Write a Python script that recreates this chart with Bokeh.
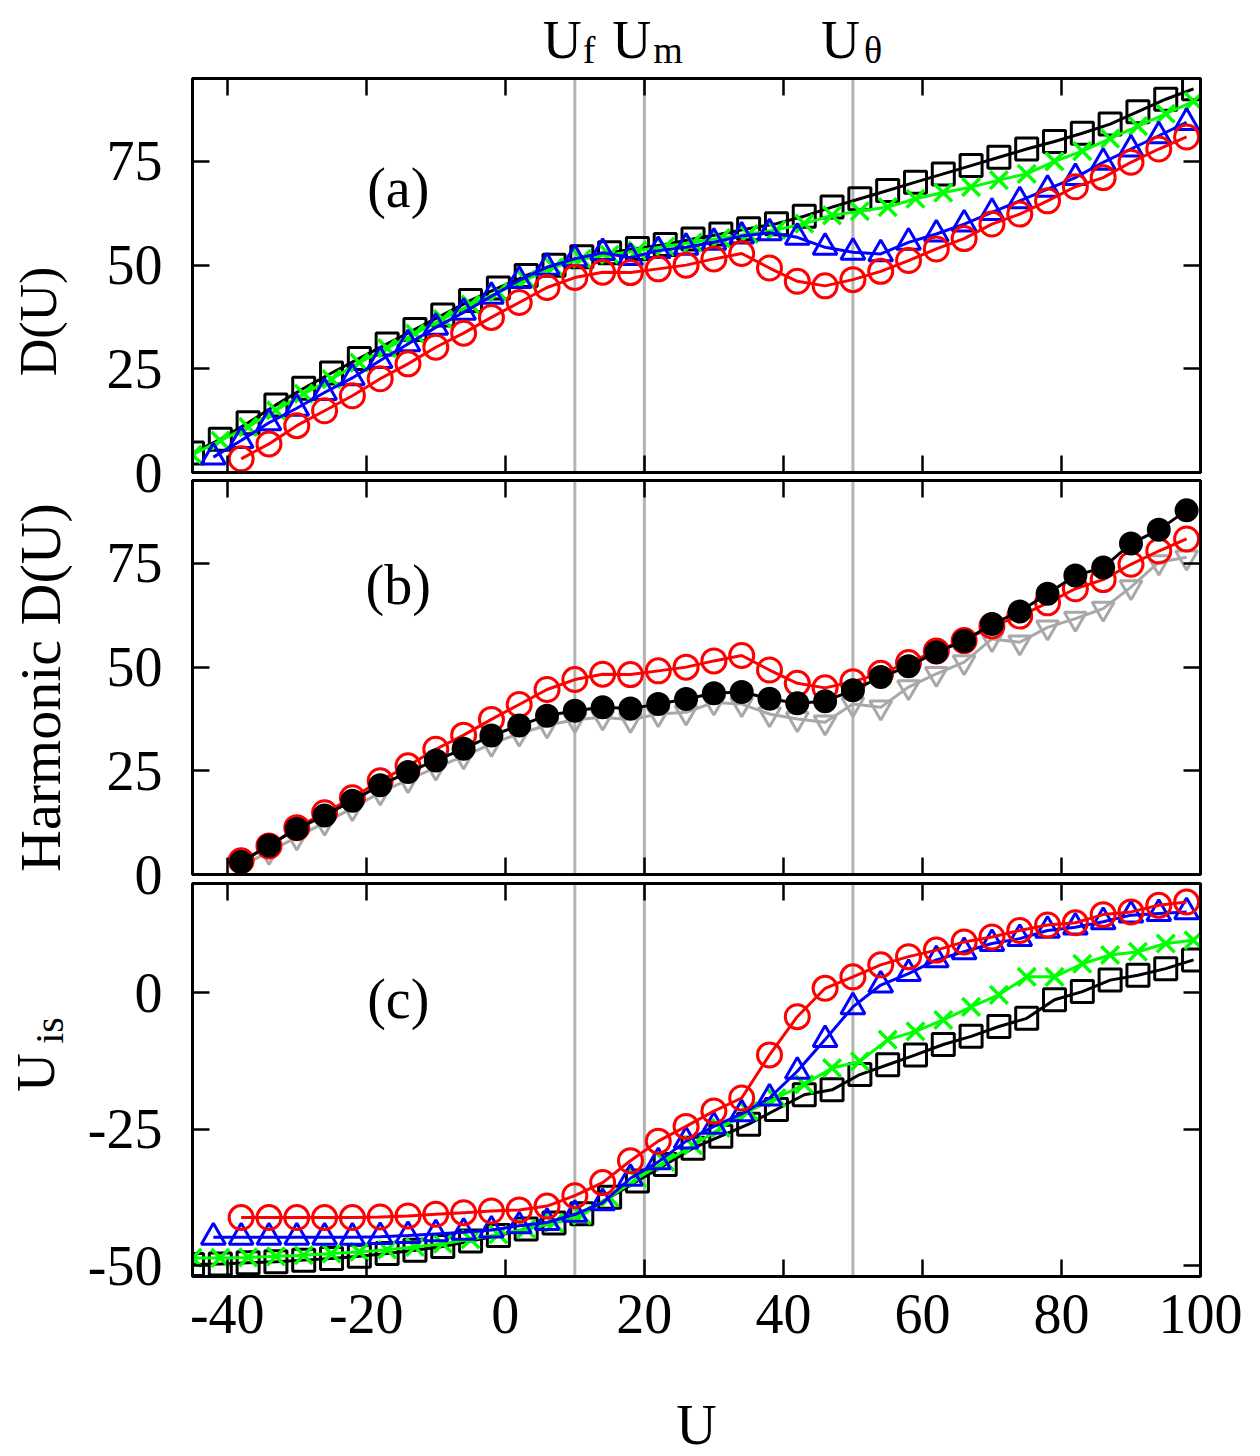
import math
from bokeh.plotting import figure
from bokeh.layouts import column, row
from bokeh.models import Range1d, LinearAxis, Span, Label, FixedTicker
from bokeh.core.properties import value
from bokeh.embed import file_html
from bokeh.resources import INLINE

FONT = "Liberation Serif"

# ---------------- data ----------------
x_odd = [-45, -41, -37, -33, -29, -25, -21, -17, -13, -9, -5, -1, 3, 7, 11, 15, 19, 23, 27,
         31, 35, 39, 43, 47, 51, 55, 59, 63, 67, 71, 75, 79, 83, 87, 91, 95, 99]
x_blue = [-42, -38, -34, -30, -26, -22, -18, -14, -10, -6, -2, 2, 6, 10, 14, 18, 22, 26, 30,
          34, 38, 42, 46, 50, 54, 58, 62, 66, 70, 74, 78, 82, 86, 90, 94, 98]
x_red = [-38, -34, -30, -26, -22, -18, -14, -10, -6, -2, 2, 6, 10, 14, 18, 22, 26, 30,
         34, 38, 42, 46, 50, 54, 58, 62, 66, 70, 74, 78, 82, 86, 90, 94, 98]

# panel (a): D(U)
sq_a = [4.7, 8.0, 12.0, 16.3, 20.3, 24.0, 27.5, 31.0, 34.5, 38.0, 41.5, 44.5, 47.5, 50.0, 52.0,
        53.0, 54.0, 55.0, 56.3, 57.5, 58.8, 60.0, 61.8, 64.0, 66.0, 68.0, 70.0, 72.0, 74.0, 76.0,
        78.0, 79.8, 81.8, 84.0, 87.0, 90.0, 92.5]
green_a = [4.3, 7.7, 11.0, 15.0, 19.0, 22.5, 26.5, 30.0, 33.5, 37.0, 40.5, 43.5, 46.5, 49.5, 51.5,
           52.5, 53.5, 54.5, 55.5, 56.5, 57.5, 58.5, 60.0, 62.0, 63.0, 64.0, 66.0, 67.5, 68.8, 70.5,
           72.0, 75.0, 77.5, 80.5, 83.5, 86.5, 89.5]
blue_a = [3.7, 7.7, 12.0, 15.5, 19.3, 22.8, 27.0, 31.0, 35.0, 38.6, 42.5, 46.3, 49.5, 51.5, 53.0,
          51.8, 53.5, 54.3, 55.5, 57.0, 57.8, 56.7, 54.3, 53.1, 52.7, 55.5, 57.5, 59.9, 62.7, 65.5,
          68.3, 71.1, 74.8, 78.0, 81.2, 84.4]
red_a = [3.3, 6.9, 11.3, 14.9, 18.5, 22.6, 26.2, 30.2, 33.6, 37.4, 41.0, 44.6, 47.0, 48.3, 48.2,
         49.1, 50.0, 51.5, 52.8, 49.3, 46.1, 45.0, 46.5, 48.5, 51.1, 53.9, 56.4, 59.9, 62.3, 65.5,
         68.9, 71.1, 74.8, 78.0, 80.9]

# panel (b): Harmonic D(U)
red_b = red_a
black_b = [3.0, 7.0, 11.0, 14.2, 17.8, 21.5, 24.7, 27.5, 30.3, 33.5, 35.9, 38.3, 39.5, 40.3, 40.0,
           41.1, 42.3, 43.7, 44.0, 42.4, 41.3, 41.8, 44.4, 47.6, 50.2, 53.6, 56.3, 60.4, 63.4, 67.7,
           72.1, 74.0, 79.8, 83.1, 87.8]
gray_b = [2.0, 5.5, 9.0, 12.5, 16.0, 19.8, 22.8, 25.8, 28.5, 31.5, 34.0, 36.0, 37.3, 37.9, 37.3,
          38.7, 39.1, 41.5, 41.1, 38.7, 37.5, 36.7, 41.1, 40.3, 45.2, 48.4, 51.2, 56.8, 56.0, 59.6,
          61.7, 64.1, 69.3, 75.3, 76.5]

# panel (c): U_is
sq_c = [-49.8, -49.7, -49.5, -49.3, -49.0, -48.7, -48.3, -47.8, -47.2, -46.5, -45.5, -44.5, -43.3,
        -42.2, -40.5, -37.5, -34.5, -31.5, -28.5, -26.3, -24.1, -21.4, -18.7, -17.8, -15.0, -13.2,
        -11.4, -9.5, -8.0, -6.2, -4.7, -1.3, 0.2, 2.3, 3.2, 4.4, 6.0]
green_c = [-48.6, -48.6, -48.5, -48.3, -48.1, -47.8, -47.5, -47.1, -46.6, -46.0, -45.2, -44.3, -43.3,
           -42.2, -40.8, -37.5, -34.0, -31.0, -28.0, -24.8, -21.7, -19.3, -16.8, -13.8, -12.6, -8.6,
           -7.1, -5.0, -2.6, -0.4, 2.9, 2.9, 5.3, 6.9, 7.5, 9.0, 9.6]
blue_c = [-44.8, -44.8, -44.8, -44.8, -44.8, -44.8, -44.7, -44.5, -44.2, -43.9, -43.5, -42.7, -42.1,
          -40.6, -38.5, -34.0, -31.0, -27.2, -24.5, -22.2, -19.3, -14.4, -8.6, -2.6, 1.4, 3.5, 6.0,
          7.5, 9.0, 9.9, 11.4, 12.0, 13.0, 14.2, 14.5, 14.8]
red_c = [-41.2, -41.2, -41.2, -41.2, -41.2, -41.1, -40.9, -40.6, -40.3, -40.0, -39.8, -39.1, -37.2,
         -34.8, -30.8, -27.2, -24.5, -21.7, -19.3, -11.4, -4.4, 0.8, 2.9, 5.1, 6.6, 7.8, 9.3, 10.2,
         11.4, 12.4, 12.8, 14.3, 14.8, 16.0, 16.6]

U_marks = [10, 20, 50]            # U_f, U_m, U_theta
U_mark_subs = ["f", "m", "θ"]
x_ticks = [-40, -20, 0, 20, 40, 60, 80, 100]
y_ticks_ab = [0, 25, 50, 75]
y_ticks_c = [-50, -25, 0]

RED = "#ff0000"
BLUE = "#0000ff"
GREEN = "#00ff00"
BLACK = "#000000"
GRAY = "#a8a8a8"

TICK_FS = "56px"
STRIP_W = 80


def style_axis(ax, ticks, labels=True):
    ax.ticker = FixedTicker(ticks=ticks)
    ax.axis_line_color = "black"
    ax.axis_line_width = 3
    ax.major_tick_in = 17
    ax.major_tick_out = 0
    ax.major_tick_line_width = 2.5
    ax.major_tick_line_color = "black"
    ax.minor_tick_line_color = None
    if labels:
        ax.major_label_overrides = {t: str(t) for t in ticks}
        ax.major_label_text_font = FONT
        ax.major_label_text_font_size = TICK_FS
        ax.major_label_text_color = "black"
    else:
        ax.major_label_text_color = None
        ax.major_label_text_font_size = "0px"
        ax.major_label_standoff = 0


def make_fig(y0, y1, yticks, top, bottom, fh, xlabels, transparent):
    p = figure(frame_width=1008, frame_height=fh,
               x_range=Range1d(-45, 100), y_range=Range1d(y0, y1),
               output_backend="svg", toolbar_location=None,
               min_border_left=192 - STRIP_W, min_border_right=50,
               min_border_top=top, min_border_bottom=bottom)
    p.grid.visible = False
    p.outline_line_color = "black"
    p.outline_line_width = 3
    p.background_fill_color = "white"
    p.border_fill_color = None if transparent else "white"
    style_axis(p.below[0], x_ticks, labels=xlabels)
    style_axis(p.left[0], yticks, labels=True)
    p.left[0].major_label_standoff = 30
    top_ax = LinearAxis()
    style_axis(top_ax, x_ticks, labels=False)
    p.add_layout(top_ax, "above")
    right_ax = LinearAxis()
    style_axis(right_ax, yticks, labels=False)
    p.add_layout(right_ax, "right")
    for u in U_marks:
        p.add_layout(Span(location=u, dimension="height", line_color="#b4b4b4",
                          line_width=3, level="underlay"))
    return p


def strip(height):
    s = figure(frame_width=STRIP_W, frame_height=height, x_range=Range1d(0, STRIP_W),
               y_range=Range1d(0, height), output_backend="svg", toolbar_location=None,
               min_border_left=0, min_border_right=0, min_border_top=0, min_border_bottom=0,
               x_axis_location=None, y_axis_location=None)
    s.grid.visible = False
    s.outline_line_color = None
    s.background_fill_color = None
    s.border_fill_color = None
    return s


def vtext(s, x, y, txt, size):
    s.text(x=[x], y=[y], text=[txt], angle=math.pi / 2, text_align="center",
           text_baseline="middle", text_font=value(FONT), text_font_size=value(size),
           text_color="black")


def series(p, xs, ys, color, marker, size, fill=None, lw=3):
    p.line(xs, ys, line_color=color, line_width=3)
    p.scatter(xs, ys, marker=marker, size=size, line_color=color, line_width=lw,
              fill_color=fill if fill else None)


def panel_label(p, x, y, txt):
    p.add_layout(Label(x=x, y=y, text=txt, text_font=FONT, text_font_size="56px",
                       text_align="center", text_baseline="middle", text_color="black"))


# ---------------- top strip with U_f, U_m, U_theta ----------------
ptop = figure(frame_width=1008, frame_height=74, x_range=Range1d(-45, 100),
              y_range=Range1d(0, 74), output_backend="svg", toolbar_location=None,
              min_border_left=192, min_border_right=50, min_border_top=0, min_border_bottom=0,
              x_axis_location=None, y_axis_location=None)
ptop.grid.visible = False
ptop.outline_line_color = None
ptop.text(x=U_marks, y=[35] * len(U_marks), text=["U"] * len(U_marks),
          x_offset=[7, 7, 7], text_align="right", text_baseline="middle",
          text_font=value(FONT), text_font_size=value("54px"), text_color="black")
ptop.text(x=U_marks, y=[25] * len(U_marks), text=U_mark_subs,
          x_offset=[8, 9, 11], text_align="left", text_baseline="middle",
          text_font=value(FONT), text_font_size=value("38px"), text_color="black")

# ---------------- panel (a) ----------------
H_A = 4 + 394 + 30
pa = make_fig(0, 95, y_ticks_ab, 4, 30, 394, False, False)
series(pa, x_odd, sq_a, BLACK, "square", 22)
series(pa, x_odd, green_a, GREEN, "x", 25, lw=3.5)
series(pa, x_blue, blue_a, BLUE, "triangle", 24)
series(pa, x_red, red_a, RED, "circle", 24)
panel_label(pa, -15.4, 68.7, "(a)")
sa = strip(H_A)
vtext(sa, 38, 185, "D(U)", "52px")

# ---------------- panel (b) ----------------
H_B = 4 + 394 + 30
pb = make_fig(0, 95, y_ticks_ab, 4, 30, 394, False, True)
series(pb, x_red, gray_b, GRAY, "inverted_triangle", 22)
series(pb, x_red, red_b, RED, "circle", 24)
series(pb, x_red, black_b, BLACK, "circle", 21, fill=BLACK)
panel_label(pb, -15.4, 69.7, "(b)")
sb = strip(H_B)
vtext(sb, 40, 221, "Harmonic D(U)", "58px")

# ---------------- panel (c) ----------------
H_C = 4 + 393 + 172
pc = make_fig(-52, 20, y_ticks_c, 4, 172, 393, True, True)
series(pc, x_odd, sq_c, BLACK, "square", 22)
series(pc, x_odd, green_c, GREEN, "x", 25, lw=3.5)
series(pc, x_blue, blue_c, BLUE, "triangle", 24)
series(pc, x_red, red_c, RED, "circle", 24)
panel_label(pc, -15.4, -1.1, "(c)")
xa = pc.below[0]
xa.major_label_standoff = 18
xa.axis_label = "U"
xa.axis_label_standoff = 58
xa.axis_label_text_font = FONT
xa.axis_label_text_font_size = "56px"
xa.axis_label_text_font_style = "normal"
xa.axis_label_text_color = "black"
sc = strip(H_C)
vtext(sc, 35, 380, "U", "54px")
vtext(sc, 49, 422, "is", "40px")

ra = row(sa, pa, spacing=0)
rb = row(sb, pb, spacing=0)
rb.styles = {"margin-top": "-26px"}
rc = row(sc, pc, spacing=0)
rc.styles = {"margin-top": "-25px"}

layout = column(ptop, ra, rb, rc, spacing=0)
open("out.html", "w").write(file_html(layout, INLINE))
